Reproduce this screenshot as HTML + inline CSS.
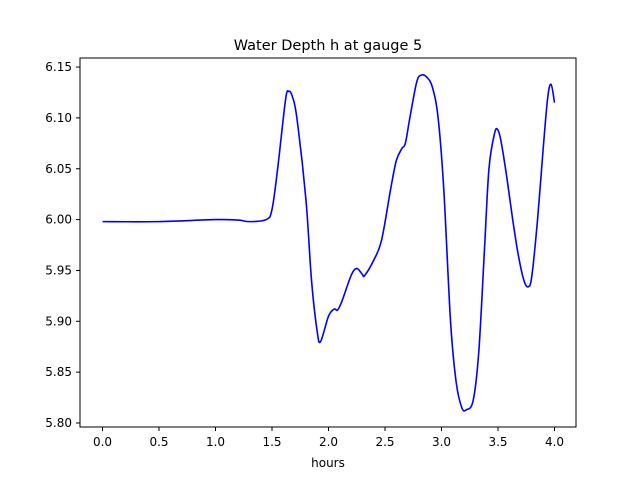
<!DOCTYPE html>
<html><head><meta charset="utf-8"><style>
body{margin:0;background:#fff;}
svg{font-family:"DejaVu Sans","Liberation Sans",sans-serif;}
</style></head><body>
<svg id="chart" width="640" height="480" xmlns="http://www.w3.org/2000/svg">
<rect width="640" height="480" fill="#fff"/>
<text x="328" y="50" font-size="14.5" text-anchor="middle">Water Depth h at gauge 5</text>
<g id="xt"></g>
<g id="yt"></g>
<path id="line" fill="none" stroke="#0000ff" stroke-width="1.6"/>
<rect x="80" y="58" width="496" height="369" fill="none" stroke="#000" stroke-width="1"/>
<text x="328" y="467" font-size="12" text-anchor="middle">hours</text>
</svg>
<script>
const times=[0,0.5,1.0,1.2,1.3,1.45,1.5,1.55,1.62,1.65,1.68,1.72,1.8,1.85,1.9,1.93,2.0,2.05,2.08,2.12,2.2,2.25,2.3,2.32,2.4,2.47,2.55,2.6,2.65,2.68,2.72,2.78,2.82,2.87,2.92,2.97,3.02,3.08,3.13,3.18,3.22,3.28,3.33,3.38,3.42,3.47,3.5,3.53,3.58,3.63,3.68,3.73,3.77,3.8,3.85,3.9,3.94,3.97,4.0];
const depths=[5.998,5.998,6.000,5.9995,5.998,6.000,6.01,6.05,6.118,6.126,6.121,6.10,6.02,5.94,5.89,5.88,5.905,5.912,5.911,5.92,5.945,5.952,5.946,5.945,5.96,5.98,6.03,6.058,6.07,6.075,6.10,6.135,6.142,6.14,6.13,6.10,6.03,5.90,5.84,5.815,5.813,5.822,5.87,5.97,6.05,6.085,6.088,6.075,6.04,6.00,5.965,5.94,5.934,5.945,6.00,6.07,6.12,6.133,6.115];
const xTicks=[0,0.5,1.0,1.5,2.0,2.5,3.0,3.5,4.0];
const yTicks=[5.80,5.85,5.90,5.95,6.00,6.05,6.10,6.15];
const NS='http://www.w3.org/2000/svg';
const X=t=>102.5+t*113;
const Y=v=>423-(v-5.80)*1017;
const xt=document.getElementById('xt'),yt=document.getElementById('yt');
xTicks.forEach(t=>{
 const l=document.createElementNS(NS,'line');
 
 
 l.setAttribute('x1',X(t));l.setAttribute('x2',X(t));l.setAttribute('y1',427);l.setAttribute('y2',431);l.setAttribute('stroke','#000');
 xt.appendChild(l);
 const s=document.createElementNS(NS,'text');
 
 
 s.setAttribute('x',X(t));s.setAttribute('y',446);s.setAttribute('font-size','12');s.setAttribute('text-anchor','middle');
 s.textContent=t.toFixed(1);xt.appendChild(s);
});
yTicks.forEach(v=>{
 const l=document.createElementNS(NS,'line');
 
 
 l.setAttribute('x1',76);l.setAttribute('x2',80);l.setAttribute('y1',Y(v));l.setAttribute('y2',Y(v));l.setAttribute('stroke','#000');
 yt.appendChild(l);
 const s=document.createElementNS(NS,'text');
 
 
 s.setAttribute('x',72);s.setAttribute('y',Y(v)+4);s.setAttribute('font-size','12');s.setAttribute('text-anchor','end');
 s.textContent=v.toFixed(2);yt.appendChild(s);
});
const P=times.map((t,i)=>[X(t),Y(depths[i])]);
let d='M'+P[0][0]+','+P[0][1];
for(let i=0;i<P.length-1;i++){
 const p0=P[Math.max(0,i-1)],p1=P[i],p2=P[i+1],p3=P[Math.min(P.length-1,i+2)];
 const c1=[p1[0]+(p2[0]-p0[0])/6,p1[1]+(p2[1]-p0[1])/6];
 const c2=[p2[0]-(p3[0]-p1[0])/6,p2[1]-(p3[1]-p1[1])/6];
 d+=' C'+c1[0]+','+c1[1]+' '+c2[0]+','+c2[1]+' '+p2[0]+','+p2[1];
}
document.getElementById('line').setAttribute('d',d);
</script>
</body></html>
